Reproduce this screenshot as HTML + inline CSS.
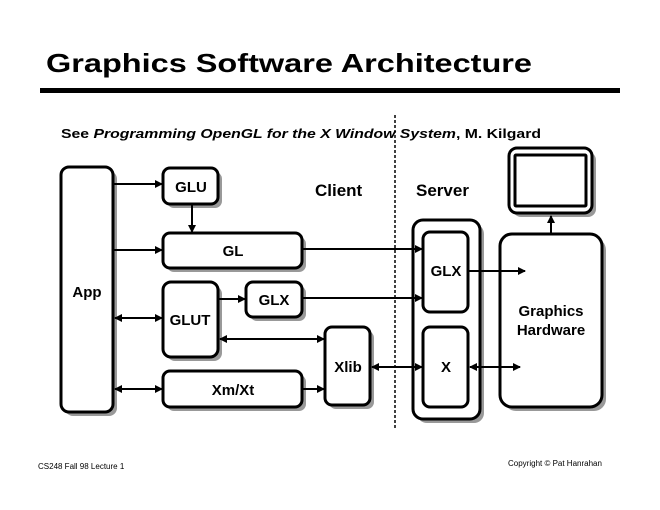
<!DOCTYPE html>
<html><head><meta charset="utf-8"><style>
html,body{margin:0;padding:0;background:#fff;}
svg{display:block;font-family:"Liberation Sans",sans-serif;font-weight:bold;}
</style></head><body>
<svg width="660" height="510" viewBox="0 0 660 510" xmlns="http://www.w3.org/2000/svg">
<defs>
<marker id="a" markerWidth="8" markerHeight="8" refX="7" refY="4" orient="auto" markerUnits="userSpaceOnUse"><path d="M0,0 L8,4 L0,8 z" fill="#000"/></marker>
<marker id="s" markerWidth="8" markerHeight="8" refX="1" refY="4" orient="auto" markerUnits="userSpaceOnUse"><path d="M8,0 L0,4 L8,8 z" fill="#000"/></marker>
</defs>
<text x="46" y="72" font-size="26" textLength="486" lengthAdjust="spacingAndGlyphs">Graphics Software Architecture</text>
<rect x="40" y="88" width="580" height="5" fill="#000"/>
<text x="61" y="138" font-size="13" textLength="480" lengthAdjust="spacingAndGlyphs">See <tspan font-style="italic">Programming OpenGL for the X Window System</tspan>, M. Kilgard</text>
<line x1="395" y1="115" x2="395" y2="430" stroke="#000" stroke-width="1.5" stroke-dasharray="3,2"/>
<text x="315" y="196" font-size="17">Client</text>
<text x="416" y="196" font-size="17">Server</text>
<g fill="#999">
<rect x="65" y="171" width="52" height="245" rx="8"/>
<rect x="167" y="172" width="55" height="36" rx="7"/>
<rect x="167" y="237" width="139" height="35" rx="7"/>
<rect x="167" y="286" width="55" height="75" rx="8"/>
<rect x="250" y="286" width="56" height="35" rx="7"/>
<rect x="329" y="331" width="45" height="78" rx="7"/>
<rect x="167" y="375" width="139" height="36" rx="7"/>
<rect x="417" y="224" width="67" height="199" rx="10"/>
<rect x="504" y="238" width="102" height="173" rx="12"/>
<rect x="513" y="152" width="83" height="65" rx="8"/>
</g>
<g fill="#fff" stroke="#000" stroke-width="3">
<rect x="61" y="167" width="52" height="245" rx="8"/>
<rect x="163" y="168" width="55" height="36" rx="7"/>
<rect x="163" y="233" width="139" height="35" rx="7"/>
<rect x="163" y="282" width="55" height="75" rx="8"/>
<rect x="246" y="282" width="56" height="35" rx="7"/>
<rect x="325" y="327" width="45" height="78" rx="7"/>
<rect x="163" y="371" width="139" height="36" rx="7"/>
<rect x="413" y="220" width="67" height="199" rx="10"/>
<rect x="423" y="232" width="45" height="80" rx="7"/>
<rect x="423" y="327" width="45" height="80" rx="7"/>
<rect x="500" y="234" width="102" height="173" rx="12"/>
<rect x="509" y="148" width="83" height="65" rx="8"/>
<rect x="515" y="155" width="71" height="51" rx="1"/>
</g>
<g stroke="#000" stroke-width="2" fill="none">
<line x1="113" y1="184" x2="162" y2="184" marker-end="url(#a)"/>
<line x1="192" y1="204" x2="192" y2="232" marker-end="url(#a)"/>
<line x1="113" y1="250" x2="162" y2="250" marker-end="url(#a)"/>
<line x1="115" y1="318" x2="162" y2="318" marker-start="url(#s)" marker-end="url(#a)"/>
<line x1="218" y1="299" x2="245" y2="299" marker-end="url(#a)"/>
<line x1="220" y1="339" x2="324" y2="339" marker-start="url(#s)" marker-end="url(#a)"/>
<line x1="115" y1="389" x2="162" y2="389" marker-start="url(#s)" marker-end="url(#a)"/>
<line x1="302" y1="389" x2="324" y2="389" marker-end="url(#a)"/>
<line x1="302" y1="249" x2="422" y2="249" marker-end="url(#a)"/>
<line x1="302" y1="298" x2="422" y2="298" marker-end="url(#a)"/>
<line x1="372" y1="367" x2="422" y2="367" marker-start="url(#s)" marker-end="url(#a)"/>
<line x1="468" y1="271" x2="525" y2="271" marker-end="url(#a)"/>
<line x1="470" y1="367" x2="520" y2="367" marker-start="url(#s)" marker-end="url(#a)"/>
<line x1="551" y1="234" x2="551" y2="216" marker-end="url(#a)"/>
</g>
<g font-size="15" text-anchor="middle">
<text x="87" y="297">App</text>
<text x="191" y="192">GLU</text>
<text x="233" y="256">GL</text>
<text x="190" y="325">GLUT</text>
<text x="274" y="305">GLX</text>
<text x="348" y="372">Xlib</text>
<text x="233" y="395">Xm/Xt</text>
<text x="446" y="276">GLX</text>
<text x="446" y="372">X</text>
<text x="551" y="316">Graphics</text>
<text x="551" y="335">Hardware</text>
</g>
<text x="38" y="469" font-size="8" font-weight="normal">CS248 Fall 98 Lecture 1</text>
<text x="508" y="466" font-size="8" font-weight="normal">Copyright © Pat Hanrahan</text>
</svg>
</body></html>
